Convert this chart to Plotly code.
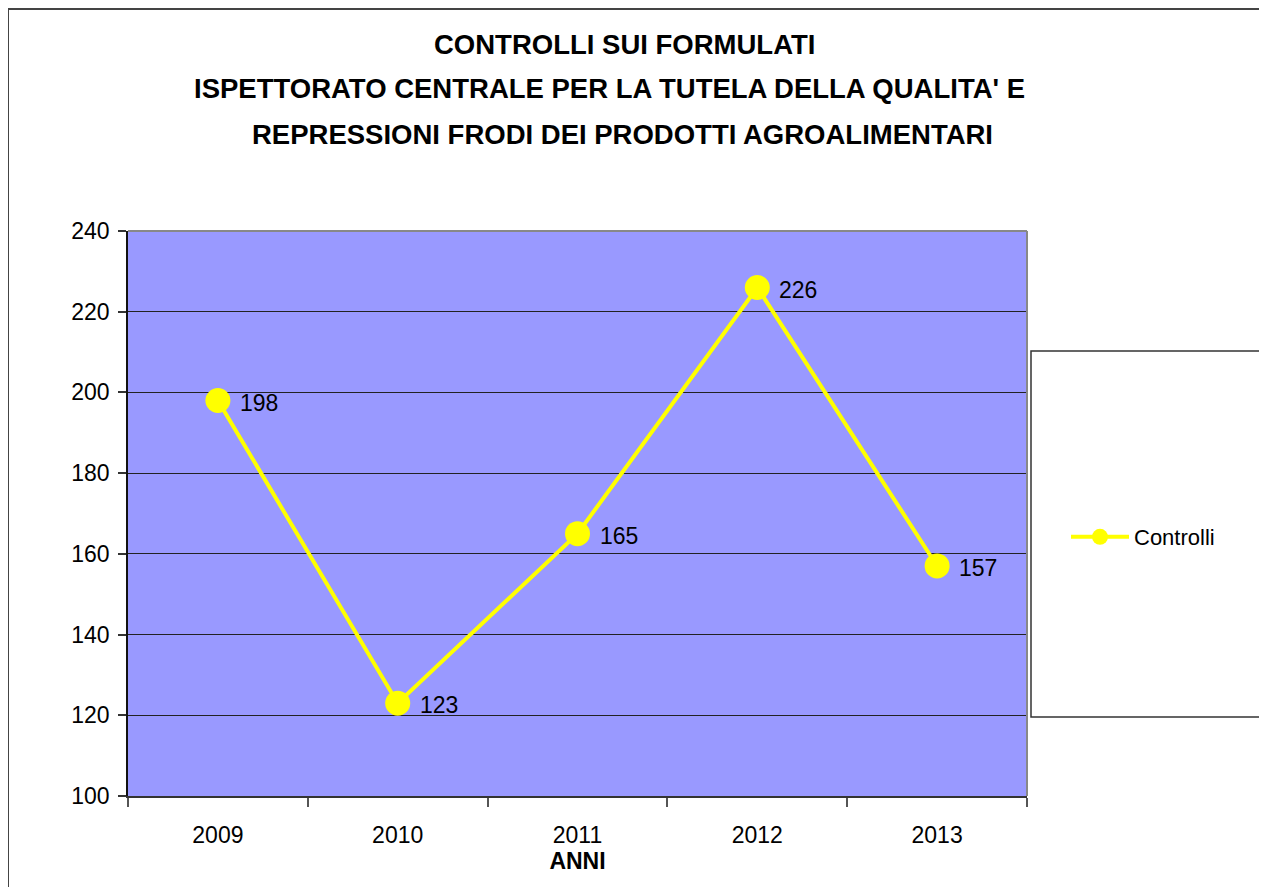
import plotly.graph_objects as go

years = ["2009", "2010", "2011", "2012", "2013"]
controlli = [198, 123, 165, 226, 157]
series_name = "Controlli"
title_lines = [
    "CONTROLLI SUI FORMULATI",
    "ISPETTORATO CENTRALE PER LA TUTELA DELLA QUALITA' E",
    "REPRESSIONI FRODI DEI PRODOTTI AGROALIMENTARI",
]
x_title = "ANNI"
y_ticks = [100, 120, 140, 160, 180, 200, 220, 240]

FONT = "Liberation Sans, Arial, sans-serif"

# the page body adds an 8px margin, so figure coords = page coords - 8
OFF = 8
W, H = 1267 - OFF, 887 - OFF
L, R, T, B = 128 - OFF, 1027 - OFF, 231 - OFF, 796 - OFF
pw, ph = R - L, B - T


def px(x):
    return (x - OFF - L) / pw


def py(y):
    return (B - (y - OFF)) / ph


fig = go.Figure()
fig.add_trace(go.Scatter(
    x=years, y=controlli, name=series_name,
    mode="lines+markers",
    line=dict(color="#FFFF00", width=4),
    marker=dict(color="#FFFF00", size=25),
    cliponaxis=False,
))

annotations = []
for i, v in enumerate(controlli):
    annotations.append(dict(
        x=i, y=v, xref="x", yref="y", text=str(v), showarrow=False,
        xanchor="left", yanchor="middle", xshift=20, yshift=-2,
        font=dict(family=FONT, size=23, color="black"),
    ))

title_pos = [(624, 44), (609, 89), (622, 134)]
for line, (tx, ty) in zip(title_lines, title_pos):
    annotations.append(dict(
        x=px(tx), y=py(ty), xref="paper", yref="paper", text="<b>" + line + "</b>",
        showarrow=False, xanchor="center", yanchor="middle",
        font=dict(family=FONT, size=27.5, color="black"),
    ))

fig.update_layout(
    width=W, height=H,
    margin=dict(l=L, r=W - R, t=T, b=H - B, pad=0),
    paper_bgcolor="white",
    plot_bgcolor="#9999FF",
    font=dict(family=FONT, size=22, color="black"),
    showlegend=True,
    legend=dict(
        x=px(1066), xanchor="left",
        y=py(537), yanchor="middle",
        bgcolor="rgba(0,0,0,0)",
        font=dict(family=FONT, size=22, color="black"),
        itemwidth=58,
    ),
    xaxis=dict(
        type="category",
        range=[-0.5, 4.5],
        showgrid=False,
        showline=True, linecolor="#333333", linewidth=2,
        ticks="outside", tickson="boundaries", ticklen=9, tickcolor="#555555", tickwidth=1.5,
        tickfont=dict(family=FONT, size=23),
        ticklabelstandoff=17,
        title=dict(text="<b>" + x_title + "</b>", font=dict(family=FONT, size=23), standoff=2),
        fixedrange=True,
    ),
    yaxis=dict(
        range=[100, 240],
        tickvals=y_ticks,
        showgrid=True, gridcolor="#222222", gridwidth=1,
        showline=True, linecolor="#111111", linewidth=1.5,
        ticks="outside", ticklen=8, tickcolor="#333333", tickwidth=1.5,
        tickfont=dict(family=FONT, size=23),
        ticklabelstandoff=4,
        zeroline=False,
        fixedrange=True,
    ),
    annotations=annotations,
    shapes=[
        # outer chart border
        dict(type="rect", xref="paper", yref="paper",
             x0=px(8), x1=px(1262), y0=py(900), y1=py(9),
             line=dict(color="#444444", width=2), layer="below"),
        # plot area right/top edge
        dict(type="line", xref="paper", yref="paper",
             x0=1, x1=1, y0=0, y1=1, line=dict(color="#888888", width=2)),
        dict(type="line", xref="paper", yref="paper",
             x0=0, x1=1, y0=1, y1=1, line=dict(color="#888888", width=2)),
        # legend box
        dict(type="rect", xref="paper", yref="paper",
             x0=px(1031), x1=px(1261), y0=py(717), y1=py(351),
             line=dict(color="#333333", width=1.5), fillcolor="white", layer="below"),
    ],
)

fig.write_html("out.html")
